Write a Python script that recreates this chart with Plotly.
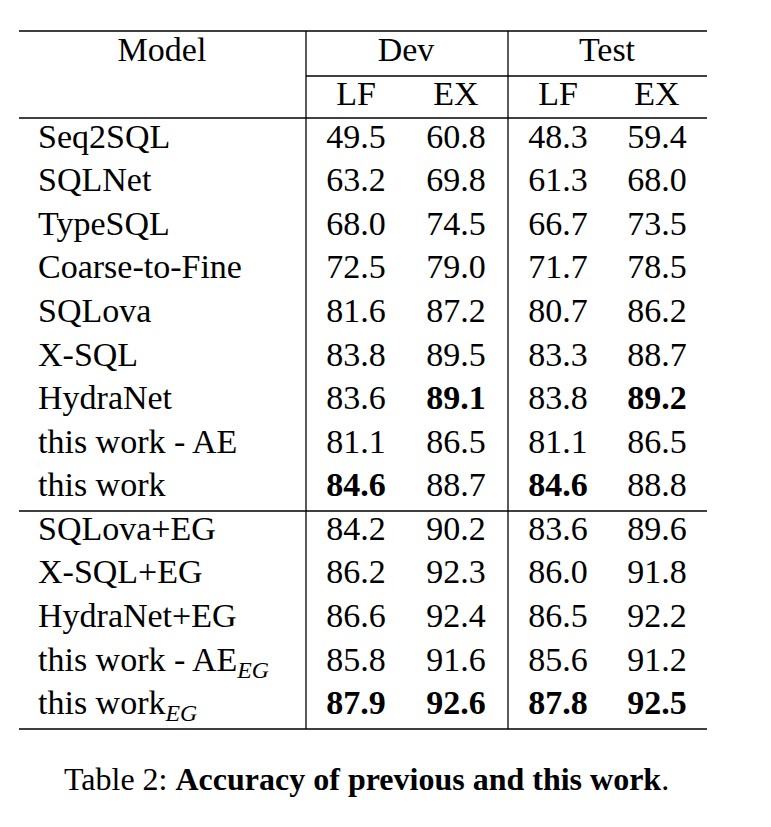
import plotly.graph_objects as go

models = ["Seq2SQL", "SQLNet", "TypeSQL", "Coarse-to-Fine", "SQLova", "X-SQL",
          "HydraNet", "this work - AE", "this work",
          "SQLova+EG", "X-SQL+EG", "HydraNet+EG",
          "this work - AE<sub><i>EG</i></sub>", "this work<sub><i>EG</i></sub>"]
dev_lf = [49.5, 63.2, 68.0, 72.5, 81.6, 83.8, 83.6, 81.1, 84.6, 84.2, 86.2, 86.6, 85.8, 87.9]
dev_ex = [60.8, 69.8, 74.5, 79.0, 87.2, 89.5, 89.1, 86.5, 88.7, 90.2, 92.3, 92.4, 91.6, 92.6]
test_lf = [48.3, 61.3, 66.7, 71.7, 80.7, 83.3, 83.8, 81.1, 84.6, 83.6, 86.0, 86.5, 85.6, 87.8]
test_ex = [59.4, 68.0, 73.5, 78.5, 86.2, 88.7, 89.2, 86.5, 88.8, 89.6, 91.8, 92.2, 91.2, 92.5]
# bold cells: (row, column index)
bold = {(8, 0), (6, 1), (8, 2), (6, 3), (13, 0), (13, 1), (13, 2), (13, 3)}

FONT = "Liberation Serif, Times New Roman, serif"
SIZE = 34
W, H = 771, 827
OFF = 7  # page body offset
left, right, vline1, vline2 = 18, 706, 305, 507
top, mid, head, sep, bottom = 30, 75, 117, 510, 728
row_y = [138 + 43.6 * i for i in range(9)] + [530 + 43.7 * i for i in range(5)]
col_x = [355, 455, 557, 656]

fig = go.Figure()
fig.add_trace(go.Scatter(x=[37] * len(models), y=row_y, text=models, mode="text",
                         textposition="middle right",
                         textfont=dict(family=FONT, size=SIZE, color="black"),
                         hoverinfo="skip"))
for c, vals in enumerate([dev_lf, dev_ex, test_lf, test_ex]):
    txt = [f"<b>{v:.1f}</b>" if (r, c) in bold else f"{v:.1f}" for r, v in enumerate(vals)]
    fig.add_trace(go.Scatter(x=[col_x[c]] * len(vals), y=row_y, text=txt, mode="text",
                             textfont=dict(family=FONT, size=SIZE, color="black"),
                             hoverinfo="skip"))

headers = [("Model", 161, 51), ("Dev", 405, 51), ("Test", 606, 51),
           ("LF", col_x[0], 95), ("EX", col_x[1], 95), ("LF", col_x[2], 95), ("EX", col_x[3], 95)]
fig.add_trace(go.Scatter(x=[h[1] for h in headers], y=[h[2] for h in headers],
                         text=[h[0] for h in headers], mode="text",
                         textfont=dict(family=FONT, size=SIZE, color="black"),
                         hoverinfo="skip"))

line = dict(color="black", width=1.3)
for y, x0 in [(top, left), (mid, vline1), (head, left), (sep, left), (bottom, left)]:
    fig.add_shape(type="line", x0=x0, x1=right, y0=y, y1=y, line=line)
for x in (vline1, vline2):
    fig.add_shape(type="line", x0=x, x1=x, y0=top, y1=bottom, line=line)

fig.add_annotation(x=365, y=778, showarrow=False,
                   text="Table 2: <b>Accuracy of previous and this work</b>.",
                   font=dict(family=FONT, size=32, color="black"))

fig.update_layout(width=W, height=H, margin=dict(l=0, r=0, t=0, b=0),
                  showlegend=False, plot_bgcolor="white", paper_bgcolor="white",
                  xaxis=dict(range=[OFF, W + OFF], visible=False, fixedrange=True),
                  yaxis=dict(range=[H + OFF, OFF], visible=False, fixedrange=True))
fig.write_html("out.html")
